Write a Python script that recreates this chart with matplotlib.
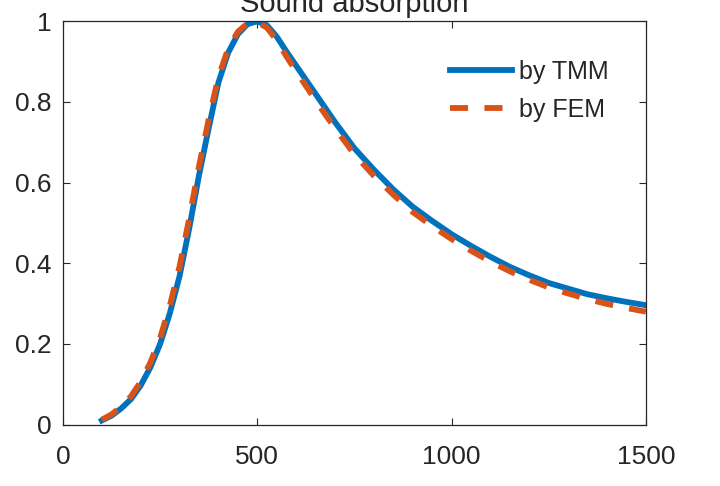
import numpy as np
import matplotlib
matplotlib.use('Agg')
from matplotlib import pyplot as plt

plt.rcParams['font.family'] = ['Liberation Sans', 'DejaVu Sans']

# frequencies (Hz) and absorption coefficients
freq = [100, 125, 150, 175, 200, 225, 250, 275, 300, 325, 350, 375, 400, 425,
        450, 475, 500, 525, 550, 575, 600, 625, 650, 675, 700, 750, 800, 850,
        900, 950, 1000, 1050, 1100, 1150, 1200, 1250, 1300, 1350, 1400, 1450,
        1500]
alpha_tmm = [0.010, 0.022, 0.040, 0.063, 0.097, 0.142, 0.200, 0.276, 0.368,
             0.487, 0.618, 0.735, 0.848, 0.922, 0.968, 0.993, 1.000, 0.990,
             0.962, 0.925, 0.890, 0.855, 0.820, 0.785, 0.750, 0.685, 0.632,
             0.583, 0.540, 0.505, 0.472, 0.443, 0.416, 0.391, 0.370, 0.351,
             0.337, 0.323, 0.313, 0.304, 0.296]
alpha_fem = [0.012, 0.025, 0.045, 0.070, 0.106, 0.154, 0.215, 0.295, 0.392,
             0.512, 0.640, 0.757, 0.862, 0.932, 0.974, 0.995, 0.998, 0.984,
             0.953, 0.913, 0.876, 0.840, 0.804, 0.769, 0.735, 0.670, 0.617,
             0.570, 0.527, 0.492, 0.460, 0.431, 0.404, 0.380, 0.359, 0.340,
             0.325, 0.311, 0.299, 0.289, 0.280]
xticks = [0, 500, 1000, 1500]
yticks = [0, 0.2, 0.4, 0.6, 0.8, 1]
ytick_labels = ['0', '0.2', '0.4', '0.6', '0.8', '1']

txt = '#262626'
fig = plt.figure(figsize=(7.2, 4.86), dpi=100)
ax = fig.add_axes([0.0875, 0.1265, 0.8095, 0.8297])

ax.plot(freq, alpha_tmm, color='#0072BD', lw=4.2, label='by TMM')
ax.plot(freq, alpha_fem, color='#D95319', lw=4.2, ls=(0, (3.1, 2.8)),
        label='by FEM')

ax.set_xlim(0, 1500)
ax.set_ylim(0, 1)
ax.set_xticks(xticks)
ax.set_yticks(yticks)
ax.set_yticklabels(ytick_labels)
ax.tick_params(direction='in', length=5, width=0.8, colors=txt,
               labelsize=19, top=True, right=True)
ax.tick_params(axis='x', pad=15)
ax.tick_params(axis='y', pad=8)
for s in ax.spines.values():
    s.set_color(txt)
    s.set_linewidth(0.9)

ax.set_title('Sound absorption', fontsize=21, color=txt, pad=6.5)
ax.set_xlabel('Frequency (Hz)', fontsize=19, color=txt)
ax.xaxis.set_label_coords(0.5, -0.158)
ax.xaxis.label.set_va('top')

leg = ax.legend(loc='upper right', bbox_to_anchor=(0.975, 0.96), frameon=False,
                fontsize=18, handlelength=2.45, handletextpad=0.3,
                labelspacing=0.55, labelcolor=txt)

fig.savefig('out.png', dpi=100)
